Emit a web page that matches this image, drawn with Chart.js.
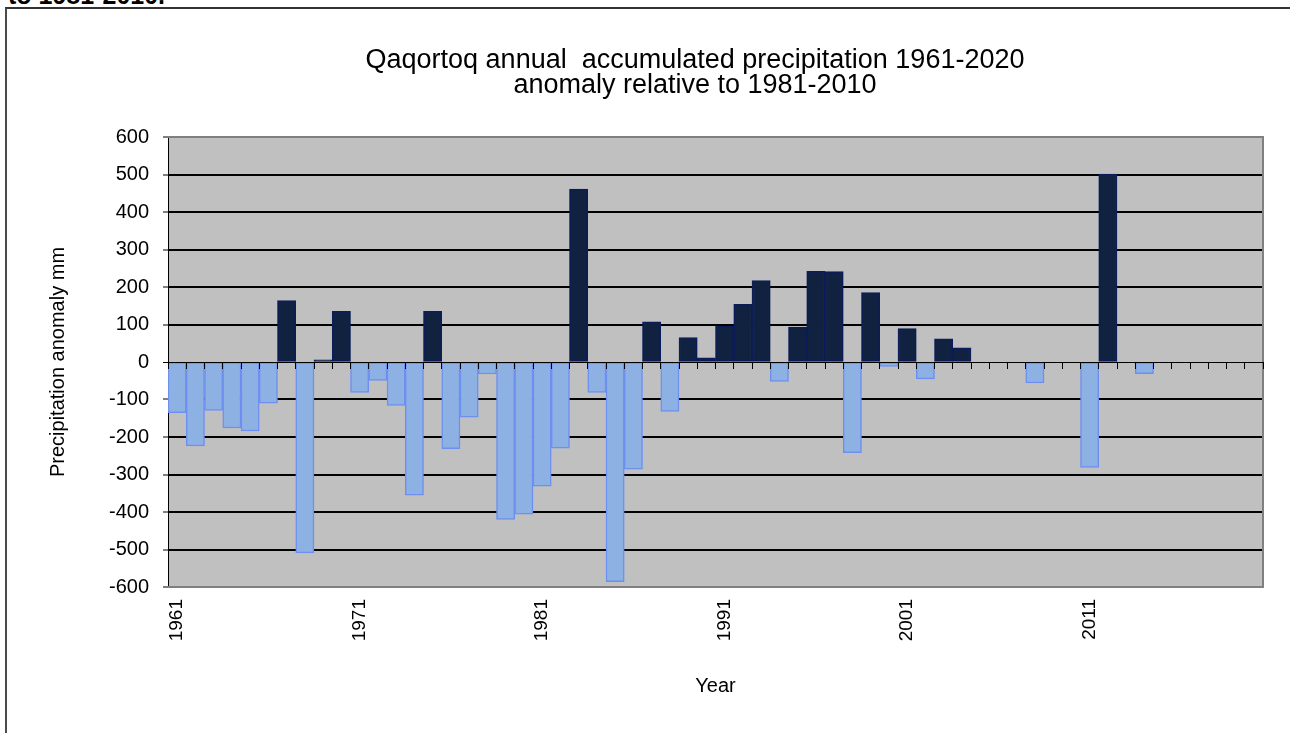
<!DOCTYPE html>
<html>
<head>
<meta charset="utf-8">
<script src="https://cdn.jsdelivr.net/npm/chart.js@4.4.1/dist/chart.umd.min.js"></script>
<style>
  html, body { margin: 0; padding: 0; background: #fff; overflow: hidden; }
  #frame { position: absolute; left: 5px; top: 7px; width: 1400px; height: 800px;
           border-left: 2px solid #4a4a4a; border-top: 2px solid #333; }
  #cut { position: absolute; left: 8px; top: -17px; font: bold 25px/25px "Liberation Sans", Arial, sans-serif;
         color: #000; white-space: nowrap; }
  #wrap { position: absolute; left: 0; top: 0; width: 1290px; height: 733px; }
</style>
</head>
<body>
<div id="cut">to 1981-2010.</div>
<div id="frame"></div>
<div id="wrap"><canvas id="precipChart"></canvas></div>
<script>
// dados: anomalia anual de precipitação (mm), 1961-2020
const years = [];
for (let y = 1961; y <= 2020; y++) years.push(String(y));

const anomaly = [
    -135, -224, -129, -176, -184, -110, 164, -509, 6, 135,
    -81, -49, -116, -355, 135, -231, -147, -32, -420, -406,
    -331, -230, 461, -81, -586, -286, 107, -132, 65, 11,
    95, 154, 217, -52, 93, 242, 241, -242, 185, -12,
    89, -45, 62, 38, null, null, null, -56, null, null,
    -281, 501, null, -31, null, null, null, null, null, null
];

const tickYears = ['1961', '1971', '1981', '1991', '2001', '2011'];
const yTicks = [-600, -500, -400, -300, -200, -100, 0, 100, 200, 300, 400, 500, 600];

Chart.defaults.font.family = '"Liberation Sans", Arial, sans-serif';
Chart.defaults.color = '#000';

// fundo cinza e moldura da área do gráfico
const plotFrame = {
    id: 'plotFrame',
    beforeDraw(chart) {
        const { ctx, chartArea: a } = chart;
        ctx.save();
        ctx.fillStyle = '#C0C0C0';
        ctx.fillRect(a.left, a.top, a.width, a.height);
        ctx.restore();
    },
    beforeDatasetsDraw(chart) {
        const { ctx, chartArea: a } = chart;
        ctx.save();
        ctx.strokeStyle = '#808080';
        ctx.lineWidth = 2;
        ctx.beginPath();
        ctx.moveTo(a.left, a.top);
        ctx.lineTo(a.right, a.top);
        ctx.lineTo(a.right, a.bottom);
        ctx.lineTo(a.left, a.bottom);
        ctx.stroke();
        ctx.restore();
    }
};

const ctx = document.getElementById('precipChart').getContext('2d');
new Chart(ctx, {
    type: 'bar',
    data: {
        labels: years,
        datasets: [{
            label: 'Precipitation anomaly',
            data: anomaly,
            backgroundColor: c => (c.raw >= 0 ? '#112240' : '#8EB1E4'),
            borderColor: c => (c.raw >= 0 ? '#0B1C5C' : '#6E8FF2'),
            borderWidth: 1.5,
            borderSkipped: false,
            barPercentage: 1,
            categoryPercentage: 1
        }]
    },
    options: {
        responsive: true,
        maintainAspectRatio: false,
        animation: false,
        layout: { padding: { left: 100, right: 0, top: 0, bottom: 0 } },
        plugins: {
            legend: { display: false },
            tooltip: { enabled: false },
            title: {
                display: true,
                text: ['Qaqortoq annual  accumulated precipitation 1961-2020', 'anomaly relative to 1981-2010'],
                font: { size: 27, weight: 'normal', lineHeight: '25px' },
                color: '#000',
                padding: { top: 48.5, bottom: 38.5 }
            }
        },
        scales: {
            x: {
                position: 'bottom',
                grid: { display: false },
                border: { display: false },
                ticks: {
                    autoSkip: false,
                    maxRotation: 90,
                    minRotation: 90,
                    padding: 4,
                    font: { size: 19 },
                    callback: function (v, i) {
                        const lab = this.getLabelForValue(v);
                        return tickYears.includes(lab) ? lab : '';
                    }
                },
                title: { display: true, text: 'Year', font: { size: 20 }, padding: { bottom: 35 } },
                afterFit: s => { s.height = 146; }
            },
            x2: {
                type: 'category',
                axis: 'x',
                position: { y: 0 },
                offset: true,
                grid: { offset: true, drawOnChartArea: false, drawTicks: true, tickLength: 6,
                        tickColor: '#000', tickWidth: 1, z: 1 },
                border: { display: true, color: '#000', width: 1, z: 1 },
                ticks: { display: false, autoSkip: false }
            },
            y: {
                min: -600,
                max: 600,
                afterBuildTicks: s => { s.ticks = yTicks.map(v => ({ value: v })); },
                grid: {
                    color: c => (Math.abs(c.tick.value) === 600 ? 'rgba(0,0,0,0)' : '#000'),
                    lineWidth: c => (c.tick.value === 0 ? 1 : 2),
                    tickLength: 5,
                    tickColor: '#000',
                    tickWidth: 1
                },
                border: { display: true, color: '#000', width: 1 },
                ticks: { font: { size: 20 }, padding: 14 },
                title: { display: true, text: 'Precipitation anomaly mm', font: { size: 20 }, padding: { top: -54 } },
                afterFit: s => { s.width = 68; }
            },
            // espaço vazio à direita da área do gráfico
            yRight: {
                type: 'linear',
                position: 'right',
                grid: { display: false },
                border: { display: false },
                ticks: { display: false },
                afterFit: s => { s.width = 27; }
            }
        }
    },
    plugins: [plotFrame]
});
</script>
</body>
</html>
